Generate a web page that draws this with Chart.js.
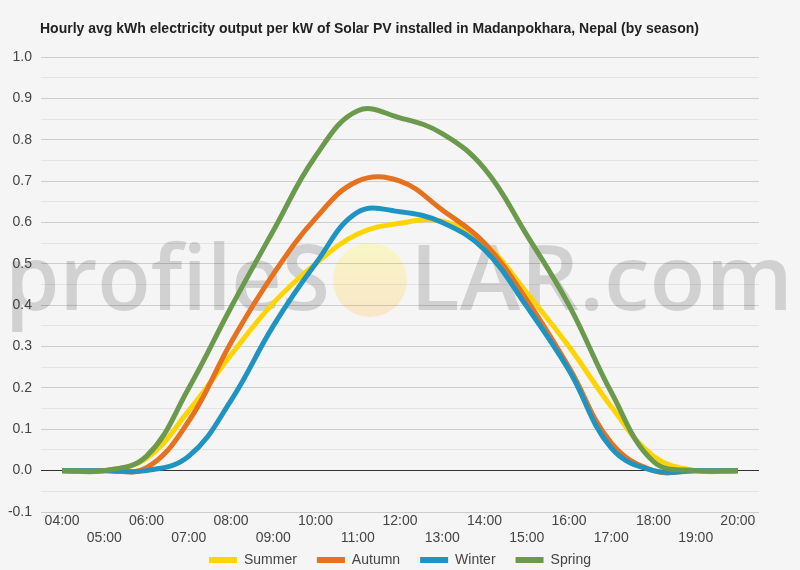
<!DOCTYPE html>
<html>
<head>
<meta charset="utf-8">
<script src="https://cdn.jsdelivr.net/npm/chart.js@4/dist/chart.umd.min.js"></script>
<style>
html,body{margin:0;padding:0;background:#f5f5f5;}
#wrap{width:800px;height:570px;position:relative;}
</style>
</head>
<body>
<div id="wrap"><canvas id="c" width="800" height="570"></canvas></div>
<script>
const titleText = 'Hourly avg kWh electricity output per kW of Solar PV installed in Madanpokhara, Nepal (by season)';
const hours = ['04:00','05:00','06:00','07:00','08:00','09:00','10:00','11:00','12:00','13:00','14:00','15:00','16:00','17:00','18:00','19:00','20:00'];
const seriesNames = ['Summer','Autumn','Winter','Spring'];
const summer = [0, 0, 0.03, 0.145, 0.28, 0.405, 0.50, 0.572, 0.598, 0.603, 0.55, 0.43, 0.30, 0.155, 0.035, 0, 0];
const autumn = [0, 0, 0.007, 0.12, 0.31, 0.475, 0.61, 0.70, 0.70, 0.63, 0.55, 0.413, 0.25, 0.067, 0, 0, 0];
const winter = [0, 0, 0, 0.035, 0.17, 0.35, 0.50, 0.625, 0.626, 0.60, 0.534, 0.397, 0.243, 0.055, 0, 0, 0];
const spring = [0, 0, 0.035, 0.20, 0.395, 0.58, 0.76, 0.87, 0.853, 0.815, 0.73, 0.57, 0.40, 0.19, 0.022, 0, 0];
const yMin = -0.1, yMax = 1.0, yStep = 0.05;

const colors = ['#FFD400', '#E6711F', '#1F94C2', '#6C9A4C'];
const allSeries = [summer, autumn, winter, spring];
const FONT = '"Liberation Sans", Arial, sans-serif';

const bgPlugin = {
  id: 'bgwm',
  beforeDraw(chart) {
    const ctx = chart.ctx;
    ctx.save();
    ctx.fillStyle = '#f5f5f5';
    ctx.fillRect(0, 0, chart.width, chart.height);
    // watermark
    ctx.font = '600 90px "Open Sans"';
    ctx.fillStyle = 'rgba(110,110,110,0.26)';
    ctx.textBaseline = 'alphabetic';
    const t1 = 'profileS', t2 = 'LAR.com';
    const w1 = ctx.measureText(t1).width, w2 = ctx.measureText(t2).width;
    ctx.save(); ctx.translate(5, 310); ctx.scale(325 / w1, 1); ctx.fillText(t1, 0, 0); ctx.restore();
    ctx.save(); ctx.translate(410, 310); ctx.scale(383 / w2, 1); ctx.fillText(t2, 0, 0); ctx.restore();
    const g = ctx.createLinearGradient(0, 243, 0, 317);
    g.addColorStop(0, 'rgba(255,250,100,0.32)');
    g.addColorStop(1, 'rgba(255,200,110,0.32)');
    ctx.fillStyle = g;
    ctx.beginPath(); ctx.arc(370, 280, 37, 0, Math.PI * 2); ctx.fill();
    ctx.restore();
  },
  afterDraw(chart) {
    const ctx = chart.ctx;
    ctx.save();
    ctx.font = 'bold 14px ' + FONT;
    ctx.fillStyle = '#222';
    ctx.textBaseline = 'middle';
    ctx.fillText(titleText, 40, 29);
    ctx.restore();
  }
};

new Chart(document.getElementById('c'), {
  type: 'line',
  data: {
    labels: hours,
    datasets: seriesNames.map((n, i) => ({
      label: n,
      data: allSeries[i],
      borderColor: colors[i],
      backgroundColor: colors[i],
      borderWidth: 5,
      pointRadius: 0,
      pointHoverRadius: 0,
      tension: 0.4,
      fill: false,
      order: 4 - i
    }))
  },
  options: {
    responsive: false,
    animation: false,
    devicePixelRatio: 1,
    layout: { padding: { top: 57, bottom: -7, left: 0, right: 41 } },
    plugins: {
      title: { display: false },
      tooltip: { enabled: false },
      legend: {
        position: 'bottom',
        align: 'center',
        fullSize: false,
        labels: {
          boxWidth: 28,
          boxHeight: 6,
          padding: 20,
          color: '#444',
          font: { family: FONT, size: 14 },
          sort: (a, b) => a.datasetIndex - b.datasetIndex,
          generateLabels(chart) {
            return chart.data.datasets.map((d, i) => ({
              text: d.label, fillStyle: d.borderColor, strokeStyle: d.borderColor,
              lineWidth: 0, hidden: false, datasetIndex: i, fontColor: '#444'
            }));
          }
        }
      }
    },
    scales: {
      x: {
        type: 'category',
        offset: true,
        grid: { display: false, drawTicks: false },
        border: { display: false },
        ticks: {
          autoSkip: false,
          maxRotation: 0,
          minRotation: 0,
          mirror: true,
          padding: -18,
          color: '#444',
          font: { family: FONT, size: 14 },
          callback: (v, i) => (i % 2 === 0 ? [hours[i], ''] : ['', hours[i]])
        },
        afterFit: (s) => { s.height = 21; }
      },
      y: {
        min: yMin,
        max: yMax,
        border: { display: false },
        grid: {
          drawTicks: false,
          lineWidth: 1,
          color: (c) => {
            const v = c.tick ? c.tick.value : 1;
            if (Math.abs(v) < 1e-9) return '#333';
            return c.index % 2 === 0 ? 'rgba(0,0,0,0.16)' : 'rgba(0,0,0,0.07)';
          }
        },
        ticks: {
          stepSize: yStep,
          autoSkip: false,
          padding: 9,
          color: '#444',
          font: { family: FONT, size: 14 },
          callback: (v, i) => (i % 2 === 0 ? Number(v).toFixed(1) : '')
        },
        afterFit: (s) => { s.width = 41; }
      }
    }
  },
  plugins: [bgPlugin]
});
</script>
</body>
</html>
